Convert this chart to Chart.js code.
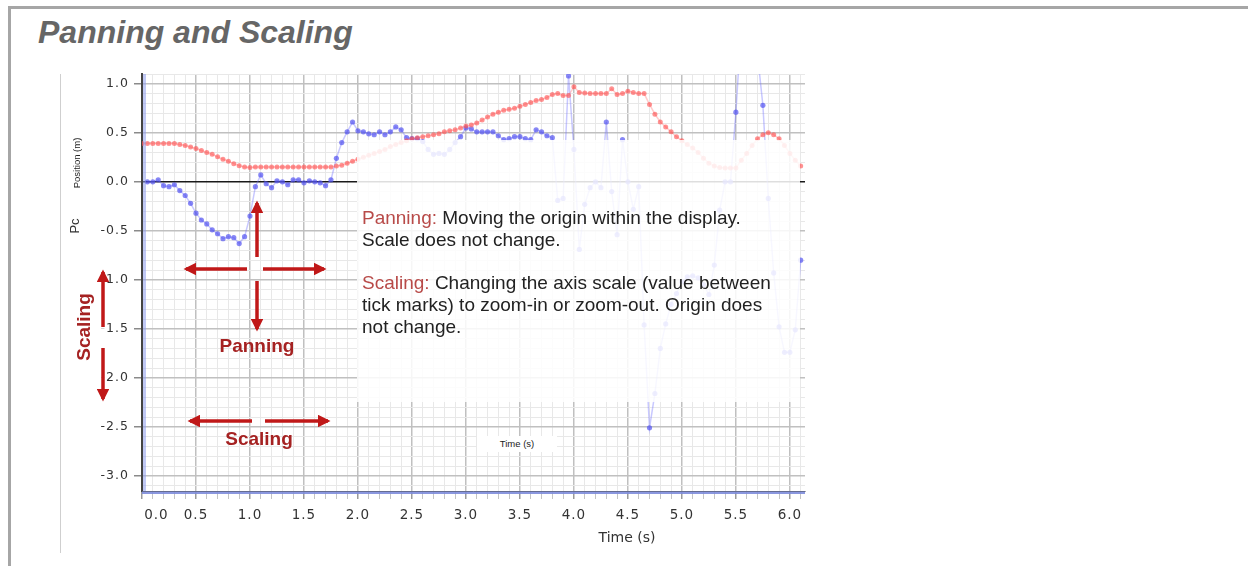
<!DOCTYPE html>
<html>
<head>
<meta charset="utf-8">
<title>Panning and Scaling</title>
<script src="https://cdn.jsdelivr.net/npm/chart.js@4.4.1/dist/chart.umd.min.js"></script>
<style>
  html, body { margin: 0; padding: 0; background: #fff; }
  #page { position: relative; width: 1248px; height: 566px; overflow: hidden; font-family: "Liberation Sans", Arial, sans-serif; }
  .frame-top { position: absolute; left: 8px; right: 0; top: 6px; height: 3px; background: #a6a6a6; }
  .frame-left { position: absolute; left: 8px; top: 6px; bottom: 0; width: 3px; background: #a6a6a6; }
  h1 { position: absolute; left: 38px; top: 16px; margin: 0; font: italic bold 32px/32px "Liberation Sans", Arial, sans-serif; color: #666; white-space: nowrap; }
  .side-line { position: absolute; left: 60px; top: 74px; width: 1px; height: 479px; background: #cfcfcf; }
  #chart { position: absolute; left: 0; top: 0; }
  .veil { position: absolute; left: 357px; top: 140px; width: 443px; height: 262px; background: rgba(255,255,255,0.86); }
  .note { position: absolute; left: 362px; top: 207px; font-size: 19px; line-height: 21.7px; color: #222; white-space: nowrap; }
  .note .key { color: #b84a48; }
  .lbl { position: absolute; white-space: nowrap; line-height: 1; transform: translate(-50%, -50%); }
  .red { font-weight: bold; font-size: 19px; color: #a52222; }
  .rot { transform: translate(-50%, -50%) rotate(-90deg); }
  .time-box { position: absolute; left: 477px; top: 436px; width: 80px; height: 16px; background: #fff; }
  #arrows { position: absolute; left: 0; top: 0; }
</style>
</head>
<body>
<div id="page">
  <div class="frame-top"></div>
  <div class="frame-left"></div>
  <h1>Panning and Scaling</h1>
  <div class="side-line"></div>

  <canvas id="chart" width="1248" height="566"></canvas>

  <div class="veil"></div>
  <div class="note">
    <span class="key">Panning:</span> Moving the origin within the display.<br>
    Scale does not change.<br>
    <br>
    <span class="key">Scaling:</span> Changing the axis scale (value between<br>
    tick marks) to zoom-in or zoom-out. Origin does<br>
    not change.
  </div>

  <div class="time-box"></div>
  <div class="lbl" style="left:517px; top:444px; font-size:9.5px; color:#222;">Time (s)</div>
  <div class="lbl" style="left:627px; top:537px; font-family:'DejaVu Sans'; font-size:14px; color:#333;">Time (s)</div>
  <div class="lbl rot" style="left:77px; top:163px; font-size:9.5px; color:#222;">Position (m)</div>
  <div class="lbl rot" style="left:74px; top:226px; font-size:13px; color:#333;">Pc</div>

  <svg id="arrows" width="1248" height="566">
    <defs>
      <marker id="head" viewBox="0 0 10 10" refX="8" refY="5" markerWidth="3.6" markerHeight="3.6" orient="auto">
        <path d="M0,0 L10,5 L0,10 z" fill="#c01818"/>
      </marker>
    </defs>
    <g stroke="#fff" stroke-width="7" stroke-linecap="round" opacity="0.8">
      <line x1="103" y1="327" x2="103" y2="272"/>
      <line x1="103" y1="348" x2="103" y2="399"/>
    </g>
    <g stroke="#c01818" stroke-width="3.5" marker-end="url(#head)">
      <line x1="247" y1="269" x2="186" y2="269"/>
      <line x1="263" y1="269" x2="324" y2="269"/>
      <line x1="257" y1="257" x2="257" y2="203"/>
      <line x1="257" y1="281" x2="257" y2="329"/>
      <line x1="103" y1="327" x2="103" y2="272"/>
      <line x1="103" y1="348" x2="103" y2="399"/>
      <line x1="252" y1="421" x2="190" y2="421"/>
      <line x1="265" y1="421" x2="328" y2="421"/>
    </g>
  </svg>

  <div class="lbl red" style="left:257px; top:345px;">Panning</div>
  <div class="lbl red" style="left:259px; top:438px;">Scaling</div>
  <div class="lbl red rot" style="left:83px; top:327px;">Scaling</div>
</div>

<script>
// sampling: red track starts at t = 0, blue track one sample later
const SAMPLE_STEP = 0.05;
const redStart = 0.0;
const blueStart = 0.05;

// red position (m), one value per sample
const redPos = [
    0.39, 0.39, 0.39, 0.39, 0.39, 0.39, 0.39, 0.38, 0.37, 0.355,
    0.34, 0.32, 0.30, 0.28, 0.255, 0.23, 0.21, 0.185, 0.165, 0.15,
    0.146, 0.15, 0.15, 0.15, 0.15, 0.15, 0.15, 0.15, 0.15, 0.15,
    0.15, 0.15, 0.15, 0.15, 0.15, 0.15, 0.16, 0.17, 0.19, 0.21,
    0.23, 0.25, 0.27, 0.29, 0.31, 0.33, 0.36, 0.38, 0.40, 0.42,
    0.44, 0.45, 0.46, 0.47, 0.48, 0.49, 0.51, 0.52, 0.53, 0.55,
    0.57, 0.58, 0.60, 0.63, 0.66, 0.69, 0.71, 0.73, 0.74, 0.75,
    0.77, 0.79, 0.81, 0.83, 0.84, 0.86, 0.89, 0.90, 0.88, 0.88,
    0.97, 0.91, 0.905, 0.90, 0.90, 0.90, 0.90, 0.95, 0.89, 0.90,
    0.925, 0.91, 0.90, 0.90, 0.79, 0.69, 0.61, 0.56, 0.51, 0.46,
    0.42, 0.38, 0.345, 0.30, 0.24, 0.19, 0.16, 0.145, 0.14, 0.14,
    0.14, 0.22, 0.29, 0.37, 0.44, 0.48, 0.50, 0.48, 0.44, 0.37,
    0.29, 0.22, 0.16
];

// blue position (m), one value per sample
const bluePos = [
    0.00, 0.00, 0.02, -0.04, -0.05, -0.03, -0.09, -0.14, -0.22, -0.32,
    -0.39, -0.43, -0.49, -0.53, -0.58, -0.56, -0.57, -0.63, -0.56, -0.35,
    -0.05, 0.07, -0.02, -0.06, 0.01, 0.00, -0.03, 0.02, 0.02, -0.01,
    0.01, 0.00, -0.01, -0.04, 0.02, 0.24, 0.40, 0.51, 0.61, 0.52,
    0.51, 0.49, 0.48, 0.51, 0.48, 0.51, 0.56, 0.53, 0.45, 0.44,
    0.44, 0.41, 0.33, 0.28, 0.29, 0.28, 0.33, 0.40, 0.46, 0.55,
    0.54, 0.51, 0.51, 0.51, 0.51, 0.47, 0.43, 0.44, 0.46, 0.46,
    0.44, 0.43, 0.53, 0.51, 0.47, 0.45, -0.19, -0.17, 1.08, 0.33,
    -0.69, -0.23, -0.06, 0.00, -0.06, 0.61, -0.10, -0.54, 0.43, 0.00,
    -0.28, -0.05, -1.46, -2.51, -2.16, -1.70, -1.45, -1.25, -1.14, -1.02,
    -0.97, -0.96, -0.98, -1.05, -1.15, -0.85, -0.29, 0.00, 0.00, 0.71,
    1.60, 1.80, 1.70, 1.30, 0.78, -0.17, -0.93, -1.48, -1.74, -1.74,
    -1.51, -0.80
];

// axes
const xRange = [0, 6.14];
const yRange = [-3.155, 1.10];
const minorStep = 0.1;
const majorStep = 0.5;

const isMajor = v => Math.abs(v / majorStep - Math.round(v / majorStep)) < 1e-6;
const fmt = v => Math.abs(v) < 1e-9 ? '0.0' : v.toFixed(1);

const toPoints = (values, start) =>
    values.map((v, i) => ({ x: +(start + i * SAMPLE_STEP).toFixed(2), y: v }));

// thin blue strips next to the axes, and a little letter spacing for tick labels
const axisStrips = {
    id: 'axisStrips',
    beforeDraw(chart) {
        chart.ctx.letterSpacing = '1px';
    },
    afterDraw(chart) {
        const { ctx, chartArea } = chart;
        ctx.save();
        ctx.fillStyle = 'rgba(140,155,235,0.55)';
        ctx.fillRect(chartArea.left + 1, chartArea.top, 3, chartArea.bottom - chartArea.top);
        ctx.fillStyle = 'rgba(125,140,220,0.9)';
        ctx.fillRect(chartArea.left, chartArea.bottom + 0.5, chartArea.right - chartArea.left, 2.5);
        ctx.restore();
    }
};

new Chart(document.getElementById('chart'), {
    type: 'line',
    data: {
        datasets: [{
            label: 'Red',
            data: toPoints(redPos, redStart),
            borderColor: 'rgba(255,110,110,0.35)',
            borderWidth: 1.5,
            pointRadius: 2.5,
            pointBorderWidth: 0,
            pointBackgroundColor: 'rgba(255,80,80,0.62)',
            tension: 0,
            order: 1
        }, {
            label: 'Blue',
            data: toPoints(bluePos, blueStart),
            borderColor: 'rgba(110,110,255,0.38)',
            borderWidth: 1.5,
            pointRadius: 2.6,
            pointBorderWidth: 0,
            pointBackgroundColor: 'rgba(80,80,240,0.68)',
            tension: 0,
            order: 2
        }]
    },
    options: {
        responsive: false,
        animation: false,
        devicePixelRatio: 1,
        layout: { padding: { left: 82, top: 74, right: 443, bottom: 15 } },
        plugins: {
            legend: { display: false },
            tooltip: { enabled: false }
        },
        scales: {
            x: {
                type: 'linear',
                min: xRange[0],
                max: xRange[1],
                afterFit: s => { s.height = 60; },
                border: { color: '#555', width: 1 },
                grid: {
                    color: c => isMajor(c.tick.value) ? '#c0c0c0' : '#e8e8e8',
                    lineWidth: c => isMajor(c.tick.value) ? 1.5 : 1,
                    tickLength: 8,
                    tickColor: c => isMajor(c.tick.value) ? '#9a9a9a' : '#c4c4c4'
                },
                ticks: {
                    stepSize: minorStep,
                    includeBounds: false,
                    autoSkip: false,
                    maxRotation: 0,
                    padding: 8,
                    color: '#333',
                    font: { family: 'DejaVu Sans', size: 13.5 },
                    callback: v => {
                        if (!isMajor(v)) return '';
                        return v === 0 ? '\u2007\u2007\u20070.0' : fmt(v);
                    }
                }
            },
            y: {
                type: 'linear',
                min: yRange[0],
                max: yRange[1],
                afterFit: s => { s.width = 60; },
                border: { color: '#444', width: 2 },
                grid: {
                    color: c => Math.abs(c.tick.value) < 1e-9 ? '#1a1a1a' : (isMajor(c.tick.value) ? '#c0c0c0' : '#e8e8e8'),
                    lineWidth: c => isMajor(c.tick.value) ? 1.5 : 1,
                    tickLength: 8,
                    tickColor: c => isMajor(c.tick.value) ? '#8a8a8a' : 'rgba(0,0,0,0)'
                },
                ticks: {
                    stepSize: minorStep,
                    includeBounds: false,
                    autoSkip: false,
                    padding: 5,
                    color: '#333',
                    font: { family: 'DejaVu Sans', size: 12.5 },
                    callback: v => isMajor(v) ? fmt(v) : ''
                }
            }
        }
    },
    plugins: [axisStrips]
});
</script>
</body>
</html>
